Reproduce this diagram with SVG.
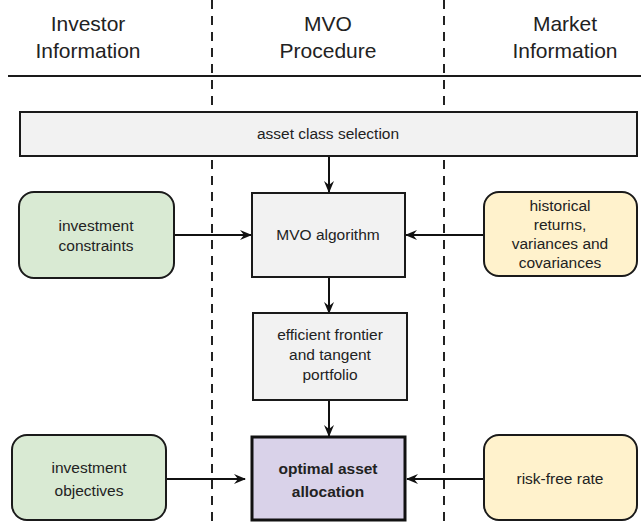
<svg xmlns="http://www.w3.org/2000/svg" width="641" height="523" viewBox="0 0 641 523">
<defs>
<marker id="arr" viewBox="0 0 12 10" refX="11" refY="5" markerWidth="12" markerHeight="10" markerUnits="userSpaceOnUse" orient="auto">
<path d="M0,0 L12,5 L0,10 L4,5 z" fill="#111"/>
</marker>
<style>
.hdr{font-family:"Liberation Sans",Arial,sans-serif;font-size:21px;fill:#222;text-anchor:middle}
.t{font-family:"Liberation Sans",Arial,sans-serif;font-size:15.5px;fill:#222;text-anchor:middle}
.b{font-weight:bold}
.box{stroke:#1a1a1a;stroke-width:2}
.gray{fill:#f2f2f2}
.green{fill:#d9ead3}
.yellow{fill:#fff2cc}
.dash{stroke:#222;stroke-width:2;stroke-dasharray:9,7;fill:none}
.conn{stroke:#111;stroke-width:2;fill:none;marker-end:url(#arr)}
</style>
</defs>
<rect width="641" height="523" fill="#ffffff"/>
<g id="lanes">
<line class="dash" x1="212" y1="0" x2="212" y2="523"/>
<line class="dash" x1="444" y1="0" x2="444" y2="523"/>
<line x1="8" y1="76" x2="641" y2="76" stroke="#1a1a1a" stroke-width="2.2"/>
<text class="hdr" x="88" y="31">Investor</text>
<text class="hdr" x="88" y="58">Information</text>
<text class="hdr" x="328" y="31">MVO</text>
<text class="hdr" x="328" y="58">Procedure</text>
<text class="hdr" x="565" y="31">Market</text>
<text class="hdr" x="565" y="58">Information</text>
</g>
<g id="connectors">
<line class="conn" x1="329" y1="157" x2="329" y2="192"/>
<line class="conn" x1="174" y1="235" x2="251" y2="235"/>
<line class="conn" x1="484" y1="235" x2="406" y2="235"/>
<line class="conn" x1="329" y1="278" x2="329" y2="313"/>
<line class="conn" x1="329" y1="400" x2="329" y2="436"/>
<line class="conn" x1="166" y1="479" x2="245" y2="479"/>
<line class="conn" x1="484" y1="479" x2="407" y2="479"/>
</g>
<g id="asset-class-selection">
<rect class="box gray" x="20" y="112" width="617" height="44"/>
<text class="t" x="328" y="139">asset class selection</text>
</g>
<g id="investment-constraints">
<rect class="box green" x="19" y="192" width="155" height="86" rx="15"/>
<text class="t" x="96" y="231">investment</text>
<text class="t" x="96" y="251">constraints</text>
</g>
<g id="mvo-algorithm">
<rect class="box gray" x="252" y="193" width="153" height="84"/>
<text class="t" x="328" y="240">MVO algorithm</text>
</g>
<g id="historical">
<rect class="box yellow" x="484" y="192" width="153" height="84" rx="15"/>
<text class="t" x="560" y="211">historical</text>
<text class="t" x="560" y="230">returns,</text>
<text class="t" x="560" y="249">variances and</text>
<text class="t" x="560" y="268">covariances</text>
</g>
<g id="efficient-frontier">
<rect class="box gray" x="253" y="313" width="154" height="87"/>
<text class="t" x="330" y="340">efficient frontier</text>
<text class="t" x="330" y="360">and tangent</text>
<text class="t" x="330" y="380">portfolio</text>
</g>
<g id="investment-objectives">
<rect class="box green" x="12" y="435" width="154" height="85" rx="15"/>
<text class="t" x="89" y="473">investment</text>
<text class="t" x="89" y="496">objectives</text>
</g>
<g id="optimal-asset-allocation">
<rect x="252" y="437" width="153" height="83" fill="#d9d2e9" stroke="#111" stroke-width="3"/>
<text class="t b" x="328" y="474">optimal asset</text>
<text class="t b" x="328" y="497">allocation</text>
</g>
<g id="risk-free-rate">
<rect class="box yellow" x="484" y="435" width="153" height="85" rx="15"/>
<text class="t" x="560" y="484">risk-free rate</text>
</g>
</svg>
